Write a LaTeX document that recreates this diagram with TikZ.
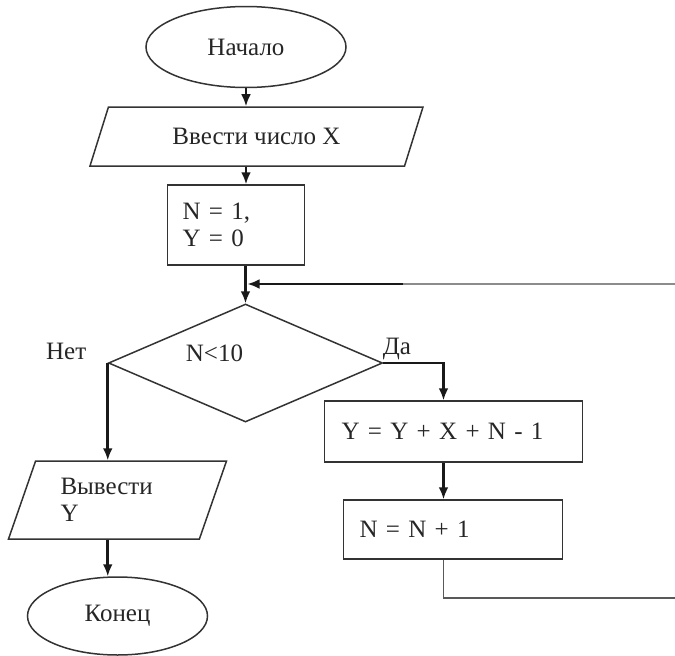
\documentclass[tikz,border=0pt]{standalone}
\usepackage{fontspec}
\setmainfont{Liberation Serif}
\usetikzlibrary{shapes.geometric, arrows.meta}

\begin{document}
\begin{tikzpicture}[x=1pt, y=1pt, font=\fontsize{25}{27}\selectfont,
  box/.style={draw=black!80, line width=1.5pt, text=black!85},
  term/.style={box, ellipse, inner sep=0pt},
  io/.style={box, trapezium, trapezium stretches body, inner sep=0pt},
  proc/.style={box, rectangle, align=left},
  decision/.style={box, diamond, inner sep=0pt, minimum width=274pt, minimum height=118pt},
  flow/.style={arrows={-Latex[length=12pt, width=10pt]}, line width=2.7pt, black!90},
  loopline/.style={line width=1.3pt, black!65},
  tag/.style={text=black!85}]
\useasboundingbox (0,0) rectangle (675,-656);
% main column
\node (start) [term, minimum width=200pt, minimum height=81pt] at (246,-47) {Начало};
\node (input) [io, trapezium left angle=42, trapezium right angle=138, minimum width=333pt, minimum height=59pt,
  node distance=89.5pt, below of=start, xshift=10.5pt] {Ввести число X};
\node (init) [proc, minimum width=137pt, minimum height=80pt, text width=107pt, inner xsep=15pt,
  node distance=88.5pt, below of=input, xshift=-20.5pt] {N = 1,\\ Y = 0};
\node (cond) [decision, label={[tag, shift={(-31pt,10pt)}]center:N<10},
  node distance=138pt, below of=init, xshift=9.5pt] {};
% no branch
\node (output) [io, trapezium left angle=58, trapezium right angle=122, minimum width=218pt, minimum height=78pt,
  text width=114pt, align=left, node distance=137pt, below of=cond, xshift=-128pt] {Вывести\\ Y};
\node (end) [term, minimum width=180pt, minimum height=78pt, node distance=116pt, below of=output] {Конец};
% yes branch
\node (calc) [proc, minimum width=258pt, minimum height=61pt, text width=224pt, inner xsep=17pt,
  node distance=68.5pt, below of=cond, xshift=208pt] {Y = Y + X + N - 1};
\node (incr) [proc, minimum width=219pt, minimum height=59pt, text width=187pt, inner xsep=16pt,
  node distance=98pt, below of=calc, xshift=-0.5pt] {N = N + 1};
% labels
\node (no) [tag, above left, xshift=-18pt] at (cond.west) {Нет};
\node (yes) [tag, above right, xshift=-4pt] at (cond.east) {Да};
% loop ends
\coordinate (loopin) at (675,-284);
\coordinate (bend) at (403,-284);
\coordinate (loopout) at (675,-598);
\draw[flow] (start.south) -- (start.south |- input.north);
\draw[flow] (start.south |- input.south) -- (start.south |- init.north);
\draw[flow] (cond.north |- init.south) -- (cond.north);
\draw[loopline, black!45] (loopin) -- (bend);
\draw[flow] (bend) -- ([xshift=2pt]cond.north |- bend);
\draw[flow] (cond.west) -- (cond.west |- output.north);
\draw[flow] (cond.west |- output.south) -- (cond.west |- end.north);
\draw[flow] (cond.east) -| ([xshift=-10pt]calc.north);
\draw[flow] ([xshift=-10pt]calc.south) -- ([xshift=-10pt]calc.south |- incr.north);
\draw[loopline] ([xshift=-10pt]calc.south |- incr.south) |- (loopout);
\end{tikzpicture}
\end{document}
